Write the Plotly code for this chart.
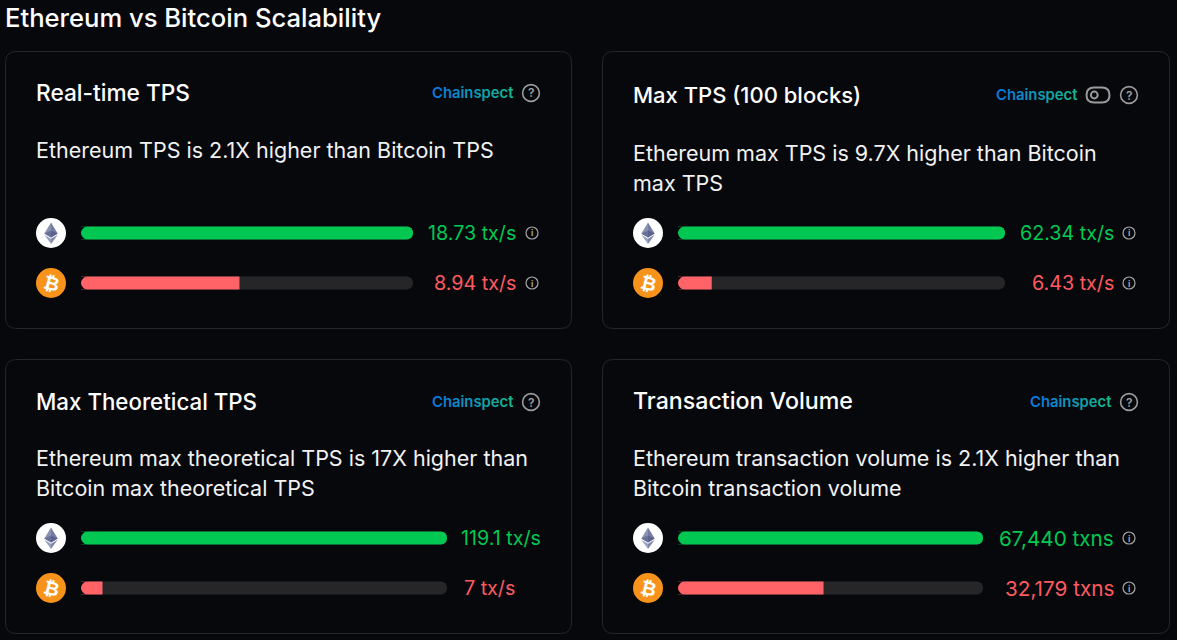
import plotly.graph_objects as go

W, H = 1177, 640
FONT = "Inter, 'Noto Sans', sans-serif"
BG = "#07080c"

page_title = "Ethereum vs Bitcoin Scalability"
chains = ["Ethereum", "Bitcoin"]
panel_titles = ["Real-time TPS", "Max TPS (100 blocks)", "Max Theoretical TPS", "Transaction Volume"]
panel_notes = [
    ["Ethereum TPS is 2.1X higher than Bitcoin TPS"],
    ["Ethereum max TPS is 9.7X higher than Bitcoin", "max TPS"],
    ["Ethereum max theoretical TPS is 17X higher than", "Bitcoin max theoretical TPS"],
    ["Ethereum transaction volume is 2.1X higher than", "Bitcoin transaction volume"],
]
eth_values = [18.73, 62.34, 119.1, 67440]
btc_values = [8.94, 6.43, 7, 32179]
eth_labels = ["18.73 tx/s", "62.34 tx/s", "119.1 tx/s", "67,440 txns"]
btc_labels = ["8.94 tx/s", "6.43 tx/s", "7 tx/s", "32,179 txns"]

# layout of each card in page pixels
cards = [
    dict(x0=5.5, x1=571.5, y0=51.5, y1=328.5, left=36, bar0=81, bar1=413, rows=(233, 283), head=93, note=150,
         end=516, btc_end=516, q=531, i_x=532, brand=513, brand_y=93, info=True, toggle=False, ts=22.7, vs=19.7),
    dict(x0=602.5, x1=1169.5, y0=51.5, y1=328.5, left=633, bar0=678, bar1=1005, rows=(233, 283), head=95, note=153,
         end=1114, btc_end=1114, q=1129, i_x=1129, brand=1077, brand_y=95, info=True, toggle=True, ts=22, vs=19.7),
    dict(x0=5.5, x1=571.5, y0=359.5, y1=633.5, left=36, bar0=81, bar1=447, rows=(538, 588), head=401, note=458,
         end=541, btc_end=515, q=531, i_x=532, brand=513, brand_y=402, info=False, toggle=False, ts=22.3, vs=19.7),
    dict(x0=602.5, x1=1169.5, y0=359.5, y1=633.5, left=633, bar0=678, bar1=983, rows=(538, 588), head=401, note=458,
         end=1114, btc_end=1114, q=1129, i_x=1129, brand=1111, brand_y=402, info=True, toggle=False, ts=23.2, vs=20.7),
]


def px(x):
    return x / W


def py(y):
    return 1 - y / H


shapes, annotations = [], []


def text(x, y, s, size, color, anchor="left", weight=400, angle=0, family=FONT):
    annotations.append(dict(x=px(x), y=py(y), xref="paper", yref="paper", text=s, showarrow=False,
                            xanchor=anchor, yanchor="middle", align=anchor, textangle=angle, borderpad=0, borderwidth=0,
                            font=dict(size=size, color=color, family=family, weight=weight)))


def path_shape(d, fill=None, line=None, width=1, layer="below"):
    shapes.append(dict(type="path", xref="paper", yref="paper", path=d, fillcolor=fill or "rgba(0,0,0,0)",
                       line=dict(color=line or "rgba(0,0,0,0)", width=width), layer=layer))


def poly(points, fill):
    d = "M " + " L ".join(f"{px(a)},{py(b)}" for a, b in points) + " Z"
    path_shape(d, fill=fill, layer="above")


def circle(cx, cy, r, fill=None, line=None, width=1):
    shapes.append(dict(type="circle", xref="paper", yref="paper", x0=px(cx - r), x1=px(cx + r), y0=py(cy + r), y1=py(cy - r),
                       fillcolor=fill or "rgba(0,0,0,0)", line=dict(color=line or "rgba(0,0,0,0)", width=width),
                       layer="above"))


def rounded(x0, y0, x1, y1, r, fill=None, line=None, width=1):
    cx = r / W
    cy = r / H
    a, b, c, d = px(x0), px(x1), py(y0), py(y1)
    p = (f"M {a + cx},{c} L {b - cx},{c} Q {b},{c} {b},{c - cy} L {b},{d + cy} Q {b},{d} {b - cx},{d} "
         f"L {a + cx},{d} Q {a},{d} {a},{d + cy} L {a},{c - cy} Q {a},{c} {a + cx},{c} Z")
    path_shape(p, fill=fill, line=line, width=width)


def left_caps(x, cy, half=6.5):
    # card-coloured corner pieces: plotly only rounds the far end of a bar
    k = half * 0.448
    for sign in (-1, 1):
        edge = cy + sign * half
        d = (f"M {px(x - 0.5)},{py(edge)} L {px(x + half)},{py(edge)} "
             f"C {px(x + k)},{py(edge)} {px(x)},{py(cy + sign * k)} {px(x)},{py(cy)} "
             f"L {px(x - 0.5)},{py(cy)} Z")
        path_shape(d, fill=BG, layer="above")


def brand(x_end, y):
    word = "Chainspect"
    start, stop = (0x0b, 0x7a, 0xdc), (0x14, 0xb8, 0x8e)
    parts = []
    for i, ch in enumerate(word):
        t = i / (len(word) - 1)
        c = tuple(round(start[k] + (stop[k] - start[k]) * t) for k in range(3))
        parts.append(f'<span style="color:#{c[0]:02x}{c[1]:02x}{c[2]:02x}">{ch}</span>')
    text(x_end, y, "".join(parts), 14.8, "#0b7adc", anchor="right", weight=600)


def question(cx, cy):
    circle(cx, cy, 8.4, line="#9b9b9b", width=1.6)
    text(cx, cy, "?", 12, "#a0a0a0", anchor="center", weight=600)


def info(cx, cy):
    circle(cx, cy, 6, line="#a8a8a8", width=1.2)
    text(cx, cy, "i", 9, "#b0b0b0", anchor="center", weight=600)


def eth_icon(cx, cy):
    circle(cx, cy, 15, fill="#ffffff")
    poly([(cx, cy - 10.5), (cx - 6.7, cy + 0.4), (cx, cy + 4.4)], "#8a92b2")
    poly([(cx, cy - 10.5), (cx + 6.7, cy + 0.4), (cx, cy + 4.4)], "#747ca3")
    poly([(cx - 6.7, cy + 1.8), (cx, cy + 5.8), (cx, cy + 11)], "#9aa1bf")
    poly([(cx + 6.7, cy + 1.8), (cx, cy + 5.8), (cx, cy + 11)], "#7f87ab")
    poly([(cx - 6.7, cy + 0.4), (cx, cy - 2.6), (cx, cy + 4.4)], "#6a7199")
    poly([(cx + 6.7, cy + 0.4), (cx, cy - 2.6), (cx, cy + 4.4)], "#5b628c")


def btc_icon(cx, cy):
    circle(cx, cy, 15, fill="#f7931a")
    text(cx, cy, "₿", 19, "#ffffff", anchor="center", weight=700, angle=14, family="'DejaVu Sans', sans-serif")


fig = go.Figure()
layout_axes = {}

text(5, 18, page_title, 25.6, "#ffffff", weight=500)

for i, c in enumerate(cards):
    rounded(c["x0"], c["y0"], c["x1"], c["y1"], 11, fill="#07080c", line="#24262b", width=1)
    text(c["left"], c["head"], panel_titles[i], c["ts"], "#ffffff", weight=500)
    for j, line in enumerate(panel_notes[i]):
        text(c["left"], c["note"] + 30 * j, line, 21.5, "#f2f2f2")
    brand(c["brand"], c["brand_y"])
    question(c["q"], c["brand_y"])
    if c["toggle"]:
        rounded(1086.5, 87.5, 1109.5, 102.5, 7.5, line="#9b9b9b", width=2)
        circle(1094.3, 95, 3.4, line="#9b9b9b", width=2)

    suffix = "" if i == 0 else str(i + 1)
    top = max(eth_values[i], btc_values[i])
    layout_axes[f"xaxis{suffix}"] = dict(domain=[px(c["bar0"]), px(c["bar1"])], range=[0, top],
                                         visible=False, fixedrange=True, anchor=f"y{suffix}")
    r0, r1 = c["rows"]
    layout_axes[f"yaxis{suffix}"] = dict(domain=[py(r1 + 25), py(r0 - 25)], range=[1.5, -0.5], type="category",
                                         categoryorder="array", categoryarray=chains,
                                         visible=False, fixedrange=True, anchor=f"x{suffix}")
    fig.add_trace(go.Bar(x=[top, top], y=chains, orientation="h", width=0.26, marker=dict(color="#262628", line_width=0),
                         xaxis=f"x{suffix}", yaxis=f"y{suffix}", hoverinfo="skip", showlegend=False))
    fig.add_trace(go.Bar(x=[eth_values[i], btc_values[i]], y=chains, orientation="h", width=0.26,
                         marker=dict(color=["#00c853", "#ff6368"], line_width=0),
                         xaxis=f"x{suffix}", yaxis=f"y{suffix}", showlegend=False))
    left_caps(c["bar0"], r0)
    left_caps(c["bar0"], r1)

    eth_icon(c["left"] + 15, r0)
    btc_icon(c["left"] + 15, r1)
    text(c["end"], r0, eth_labels[i], c["vs"], "#00c853", anchor="right")
    text(c["btc_end"], r1, btc_labels[i], c["vs"], "#ff5a5f", anchor="right")
    if c["info"]:
        info(c["i_x"], r0)
        info(c["i_x"], r1)

fig.update_layout(width=W, height=H, margin=dict(l=0, r=0, t=0, b=0), autosize=False,
                  paper_bgcolor=BG, plot_bgcolor="rgba(0,0,0,0)", barmode="overlay", barcornerradius=7,
                  shapes=shapes, annotations=annotations, font=dict(family=FONT), **layout_axes)

fig.write_html("out.html", config=dict(displayModeBar=False),
               post_script="document.body.style.margin='0';document.body.style.background='#07080c';")
